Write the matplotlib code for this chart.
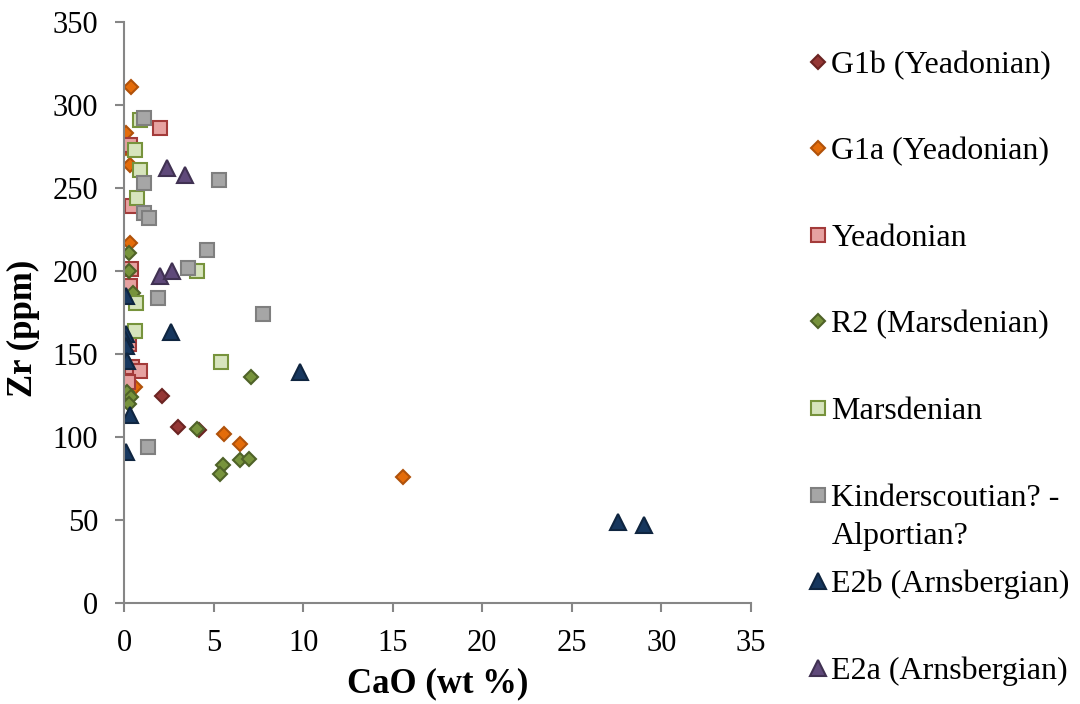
import matplotlib
matplotlib.use("Agg")
import matplotlib.pyplot as plt

plt.rcParams['font.family'] = ['Liberation Serif', 'DejaVu Serif']

# CaO (wt %) and Zr (ppm) for each group
g1b_cao = [2.1, 3.0, 4.2]
g1b_zr = [125, 106, 104]

g1a_cao = [0.4, 0.1, 0.1, 0.35, 0.35, 0.6, 5.6, 6.5, 15.6]
g1a_zr = [311, 283, 274, 264, 217, 130, 102, 96, 76]

yead_cao = [2.0, 0.35, 0.45, 0.4, 0.35, 0.3, 0.45, 0.9, 0.2]
yead_zr = [286, 276, 239, 201, 191, 156, 142, 140, 133]

r2_cao = [0.3, 0.3, 0.5, 0.15, 0.4, 0.3, 7.1, 4.1, 5.5, 5.35, 6.5, 7.0]
r2_zr = [211, 200, 187, 127, 124, 120, 136, 105, 83, 78, 86, 87]

mars_cao = [0.9, 0.6, 0.9, 0.75, 4.1, 0.65, 0.6, 5.4]
mars_zr = [291, 273, 261, 244, 200, 181, 164, 145]

kind_cao = [1.1, 5.3, 1.1, 1.1, 1.4, 4.65, 3.55, 1.9, 7.75, 1.35]
kind_zr = [292, 255, 253, 235, 232, 213, 202, 184, 174, 94]

e2b_cao = [0.1, 0.1, 0.05, 0.1, 0.15, 2.6, 0.35, 0.1, 9.8, 27.6, 29.0]
e2b_zr = [185, 162, 159, 155, 146, 163, 113, 91, 139, 49, 47]

e2a_cao = [2.4, 3.4, 2.0, 2.7]
e2a_zr = [262, 258, 197, 200]

series = [
    ("G1b (Yeadonian)", g1b_cao, g1b_zr, "D", 7, "#953735", "#6b2422"),
    ("G1a (Yeadonian)", g1a_cao, g1a_zr, "D", 7, "#e46c0a", "#b0520a"),
    ("Yeadonian", yead_cao, yead_zr, "s", 10, "#e6a2a1", "#a33b3a"),
    ("R2 (Marsdenian)", r2_cao, r2_zr, "D", 7, "#77933c", "#4f6228"),
    ("Marsdenian", mars_cao, mars_zr, "s", 10, "#d7e4bd", "#77933c"),
    ("Kinderscoutian? -", kind_cao, kind_zr, "s", 10, "#a6a6a6", "#7f7f7f"),
    ("E2b (Arnsbergian)", e2b_cao, e2b_zr, "^", 11, "#17375e", "#0f2540"),
    ("E2a (Arnsbergian)", e2a_cao, e2a_zr, "^", 11, "#5f497a", "#403152"),
]
wrap_line = "Alportian?"   # second line of the Kinderscoutian legend entry

fig = plt.figure(figsize=(10.8, 7.04), dpi=100)
ax = fig.add_axes([0.1148, 0.1435, 0.5806, 0.825])

for name, xs, ys, mk, ms, fc, ec in series:
    ax.plot(xs, ys, linestyle="none", marker=mk, markersize=ms,
            markerfacecolor=fc, markeredgecolor=ec, markeredgewidth=1.5,
            label=name)

ax.set_xlim(0, 35)
ax.set_ylim(0, 350)
ax.set_xticks(range(0, 36, 5))
ax.set_yticks(range(0, 351, 50))

for s in ["top", "right"]:
    ax.spines[s].set_visible(False)
for s in ["left", "bottom"]:
    ax.spines[s].set_color("#868686")
    ax.spines[s].set_linewidth(1.5)
ax.tick_params(direction="out", length=6.5, width=1.5, color="#868686",
               labelsize=22)
ax.tick_params(axis="y", pad=12)
ax.tick_params(axis="x", pad=12)

ax.set_xlabel("CaO (wt %)", fontsize=25, fontweight="bold", labelpad=7)
ax.set_ylabel("Zr (ppm)", fontsize=25, fontweight="bold")
ax.yaxis.set_label_coords(-0.134, 0.473)

leg = fig.legend(loc="upper left", bbox_to_anchor=(0.7486, 0.928), frameon=False,
                 fontsize=23, labelspacing=1.79, handlelength=0.6,
                 handletextpad=0.12, borderaxespad=0, borderpad=0)

# put the wrapped second line under the Kinderscoutian entry
fig.canvas.draw()
bb = leg.get_texts()[5].get_window_extent()
fig.text(bb.x0 / fig.bbox.width, (bb.y0 - 38) / fig.bbox.height, wrap_line,
         fontsize=23, va="bottom", ha="left")

fig.savefig("out.png", dpi=100)
